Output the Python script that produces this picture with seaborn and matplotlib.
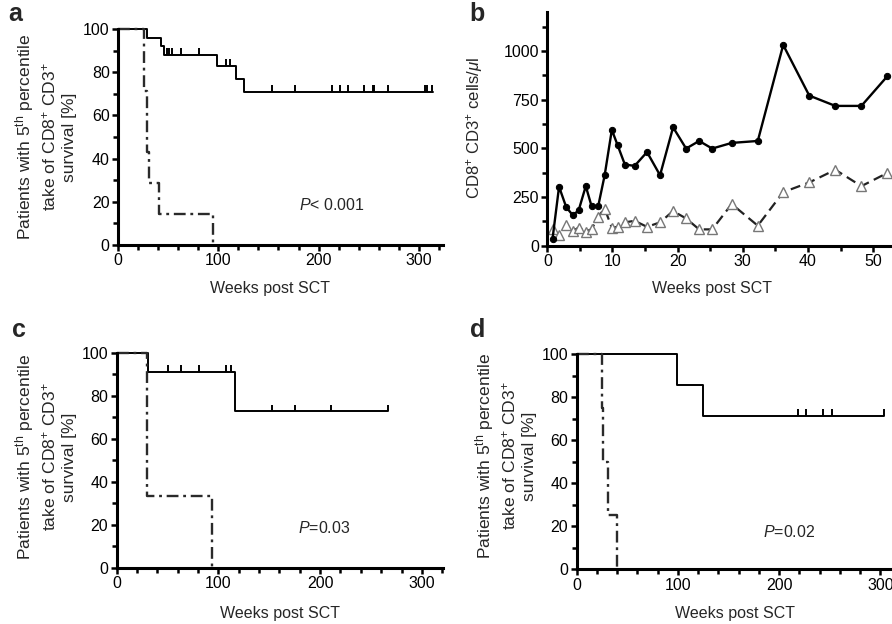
import numpy as np
import pandas as pd
import matplotlib
matplotlib.use("Agg")
import matplotlib.pyplot as plt
from matplotlib.ticker import MultipleLocator
import seaborn as sns

# ---- panel a: survival, 5th percentile take of CD8+ CD3+ (weeks post SCT, %)
a_hi_t = [0, 29, 43, 46, 99, 118, 126, 314]
a_hi_s = [100, 96, 92, 88, 83, 77, 71, 71]
a_hi_cens = [49, 51, 54, 63, 81, 108, 112, 154, 176, 213, 221, 229,
             245, 254, 255, 269, 306, 308, 313]
a_lo_t = [0, 26, 28.5, 31, 41, 95]
a_lo_s = [100, 71.4, 42.9, 28.6, 14.3, 0]

# ---- panel b: CD8+ CD3+ cells/ul over time
b_weeks = [0.8, 1.8, 2.9, 3.9, 4.8, 5.9, 6.8, 7.8, 8.8, 9.9, 10.8, 11.9, 13.4,
           15.3, 17.3, 19.3, 21.3, 23.3, 25.3, 28.3, 32.3, 36.2, 40.2, 44.2,
           48.2, 52.2]
b_solid = [36, 303, 198, 157, 181, 306, 202, 202, 362, 595, 515, 417, 410,
           481, 362, 608, 499, 538, 499, 528, 538, 1031, 771, 718, 718, 871]
b_open = [88, 55, 105, 75, 93, 72, 85, 149, 191, 92, 97, 120, 128,
          97, 120, 178, 140, 84, 84, 214, 103, 275, 325, 390, 306, 374]

# ---- panel c
c_hi_t = [0, 30.5, 116.7, 266.5]
c_hi_s = [100, 90.9, 72.7, 72.7]
c_hi_cens = [50, 63, 81, 107, 112, 153, 175, 211, 266.5]
c_lo_t = [0, 29.5, 94]
c_lo_s = [100, 33.3, 0]

# ---- panel d
d_hi_t = [0, 99.3, 124.4, 304]
d_hi_s = [100, 85.7, 71.4, 71.4]
d_hi_cens = [219, 227, 243.5, 252.7, 304]
d_lo_t = [0, 24.7, 26.3, 31.2, 40]
d_lo_s = [100, 75, 50, 25, 0]

KM_YLABEL = ("Patients with 5$^{\\mathrm{th}}$ percentile\n"
             "take of CD8$^{+}$ CD3$^{+}$\nsurvival [%]")

sns.set_theme(style="ticks")
plt.rcParams["font.family"] = ["Liberation Sans", "DejaVu Sans"]
plt.rcParams["mathtext.fontset"] = "custom"
plt.rcParams["mathtext.rm"] = "Liberation Sans"
plt.rcParams["mathtext.it"] = "Liberation Sans:italic"
plt.rcParams["mathtext.bf"] = "Liberation Sans:bold"
FS = 11.5
DASHDOT = (0, (5, 2, 1.2, 2))


def style_axis(ax):
    sns.despine(ax=ax)
    for sp in ("left", "bottom"):
        ax.spines[sp].set_linewidth(2.2)
        ax.spines[sp].set_color("black")
    ax.tick_params(which="major", length=4.5, width=1.8, labelsize=FS,
                   colors="black", pad=1.5)
    ax.tick_params(which="minor", length=3.5, width=1.8, colors="black")
    ax.set_facecolor("white")


def km_panel(ax, hi_t, hi_s, cens, lo_t, lo_s, ptext, ppos, xmax):
    sns.lineplot(x=hi_t, y=hi_s, ax=ax, color="black", lw=1.4,
                 drawstyle="steps-post", sort=False, estimator=None,
                 clip_on=False)
    sns.lineplot(x=lo_t, y=lo_s, ax=ax, color="#2a2a2a", lw=1.7,
                 drawstyle="steps-post", sort=False, estimator=None,
                 linestyle=DASHDOT, clip_on=False)
    # censor marks, placed on the curve level at each censor time
    t = np.asarray(hi_t)
    s = np.asarray(hi_s)
    lvl = s[np.searchsorted(t, cens, side="right") - 1]
    ax.vlines(cens, lvl, lvl + 3.2, color="black", lw=1.4, clip_on=False)
    ax.set_xlim(0, xmax)
    ax.set_ylim(0, 100)
    ax.xaxis.set_major_locator(MultipleLocator(100))
    ax.xaxis.set_minor_locator(MultipleLocator(20))
    ax.yaxis.set_major_locator(MultipleLocator(20))
    ax.yaxis.set_minor_locator(MultipleLocator(10))
    ax.text(ppos[0], ppos[1], ptext, fontsize=FS, va="center", ha="left")
    ax.set_ylabel(KM_YLABEL, fontsize=12.6, linespacing=1.3)
    ax.set_xlabel("Weeks post SCT", fontsize=FS)
    style_axis(ax)


fig = plt.figure(figsize=(8.92, 6.24), dpi=100)
fig.patch.set_facecolor("white")

ax_a = fig.add_axes([0.1323, 0.6074, 0.3643, 0.3462])
ax_b = fig.add_axes([0.6136, 0.6062, 0.3864, 0.3745])
ax_c = fig.add_axes([0.1308, 0.0902, 0.3655, 0.3446])
ax_d = fig.add_axes([0.6465, 0.0877, 0.3535, 0.3450])

km_panel(ax_a, a_hi_t, a_hi_s, a_hi_cens, a_lo_t, a_lo_s,
         "$P$< 0.001", (180, 18.5), 324)
km_panel(ax_c, c_hi_t, c_hi_s, c_hi_cens, c_lo_t, c_lo_s,
         "$P$=0.03", (178, 18.3), 320.5)
km_panel(ax_d, d_hi_t, d_hi_s, d_hi_cens, d_lo_t, d_lo_s,
         "$P$=0.02", (184, 17.5), 311.5)

# panel b
df_b = pd.DataFrame({"week": b_weeks, "solid": b_solid, "open": b_open})
sns.lineplot(data=df_b, x="week", y="open", ax=ax_b, color="#222222", lw=1.6,
             linestyle=(0, (4.5, 2.5)), marker="^", markersize=7.5,
             markerfacecolor="white", markeredgecolor="#777777",
             markeredgewidth=1.0, clip_on=False)
sns.lineplot(data=df_b, x="week", y="solid", ax=ax_b, color="black", lw=1.7,
             marker="o", markersize=4.5, markerfacecolor="black",
             markeredgecolor="black", clip_on=False)
ax_b.set_xlim(0, 52.9)
ax_b.set_ylim(0, 1200)
ax_b.xaxis.set_major_locator(MultipleLocator(10))
ax_b.xaxis.set_minor_locator(MultipleLocator(5))
ax_b.set_yticks([0, 250, 500, 750, 1000])
ax_b.set_yticks([125, 375, 625, 875, 1125], minor=True)
ax_b.set_ylabel("CD8$^{+}$ CD3$^{+}$ cells/$\\mathit{\\mu}$l", fontsize=12)
ax_b.set_xlabel("Weeks post SCT", fontsize=FS)
style_axis(ax_b)

# label placement
ax_a.yaxis.set_label_coords(-0.126, 0.5)
ax_c.yaxis.set_label_coords(-0.122, 0.515)
ax_d.yaxis.set_label_coords(-0.126, 0.526)
ax_b.yaxis.set_label_coords(-0.18, 0.504)
ax_a.xaxis.set_label_coords(0.468, -0.165)
ax_b.xaxis.set_label_coords(0.477, -0.15)
ax_c.xaxis.set_label_coords(0.5, -0.178)
ax_d.xaxis.set_label_coords(0.502, -0.172)

for lab, (x, y) in zip("abcd", [(0.009, 0.958), (0.526, 0.958),
                                 (0.013, 0.452), (0.527, 0.452)]):
    fig.text(x, y, lab, fontsize=18, fontweight="bold", ha="left", va="bottom")

fig.savefig("out.png", dpi=100, facecolor="white")
